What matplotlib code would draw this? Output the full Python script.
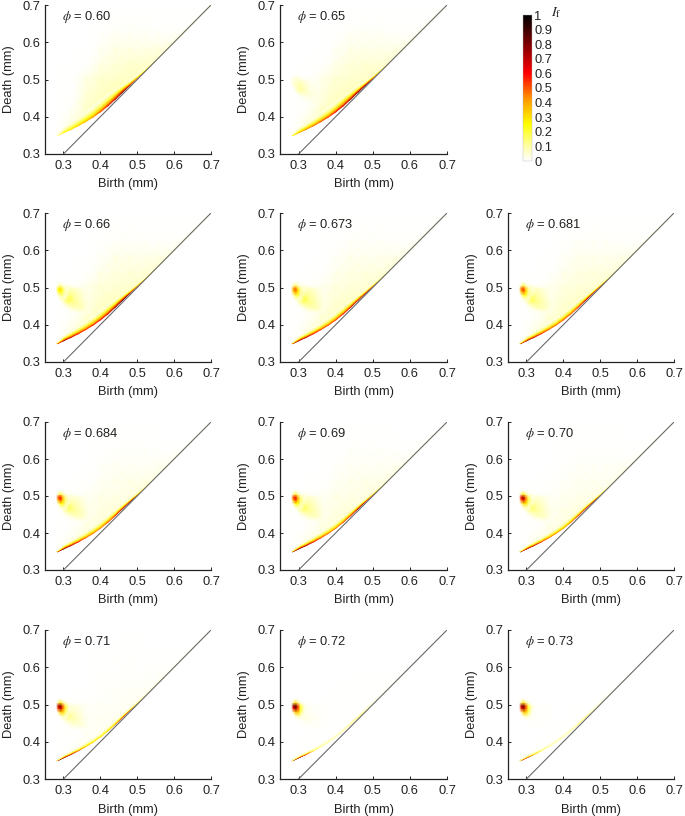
import numpy as np
import matplotlib
matplotlib.use('Agg')
import matplotlib.pyplot as plt
from matplotlib.cm import ScalarMappable
from matplotlib.colors import LinearSegmentedColormap, ListedColormap, Normalize
from matplotlib.patches import Polygon

plt.rcParams['font.family'] = ['Liberation Sans', 'DejaVu Sans']
plt.rcParams['mathtext.fontset'] = 'stix'

# panel labels, row by row (top right slot holds the colorbar)
phi_labels = ['0.60', '0.65', '0.66', '0.673', '0.681', '0.684', '0.69', '0.70', '0.71', '0.72', '0.73']

# lower ridge of the diagram
ridge_birth = [0.283, 0.30, 0.32, 0.34, 0.36, 0.38, 0.40, 0.42, 0.44, 0.46, 0.48, 0.50, 0.52, 0.55, 0.58, 0.62, 0.66, 0.70]
ridge_death = [0.349, 0.357, 0.366, 0.376, 0.387, 0.399, 0.413, 0.429, 0.447, 0.466, 0.485, 0.504, 0.523, 0.552, 0.581, 0.621, 0.661, 0.700]
band_width = [0.005, 0.014, 0.018, 0.021, 0.024, 0.026, 0.027, 0.027, 0.023, 0.017, 0.011, 0.008, 0.006, 0.004, 0.003, 0.003, 0.002, 0.002]
band_rows = [0.0, 0.2, 0.45, 0.7, 1.0]
band_falloff = [1.0, 0.65, 0.32, 0.13, 0.0]

# intensity along the ridge for each panel
ridge_levels = [
    [0.12, 0.25, 0.30, 0.33, 0.37, 0.42, 0.50, 0.58, 0.68, 0.80, 0.70, 0.48, 0.34, 0.25, 0.20, 0.14, 0.08, 0.04],
    [0.28, 0.40, 0.44, 0.47, 0.50, 0.53, 0.60, 0.66, 0.73, 0.84, 0.86, 0.58, 0.36, 0.25, 0.18, 0.12, 0.06, 0.03],
    [0.66, 0.74, 0.68, 0.60, 0.56, 0.56, 0.60, 0.66, 0.74, 0.86, 0.80, 0.54, 0.34, 0.23, 0.16, 0.10, 0.06, 0.03],
    [0.70, 0.76, 0.70, 0.60, 0.54, 0.52, 0.54, 0.58, 0.66, 0.72, 0.74, 0.62, 0.36, 0.21, 0.14, 0.10, 0.05, 0.03],
    [0.68, 0.74, 0.68, 0.58, 0.50, 0.48, 0.50, 0.50, 0.56, 0.70, 0.78, 0.72, 0.38, 0.21, 0.14, 0.08, 0.05, 0.03],
    [0.74, 0.80, 0.72, 0.58, 0.50, 0.46, 0.46, 0.50, 0.58, 0.74, 0.80, 0.50, 0.28, 0.18, 0.12, 0.07, 0.04, 0.02],
    [0.78, 0.82, 0.74, 0.63, 0.53, 0.48, 0.46, 0.50, 0.58, 0.74, 0.82, 0.52, 0.28, 0.17, 0.12, 0.07, 0.04, 0.02],
    [0.78, 0.80, 0.70, 0.56, 0.48, 0.44, 0.42, 0.46, 0.56, 0.70, 0.74, 0.44, 0.23, 0.14, 0.09, 0.06, 0.03, 0.02],
    [0.86, 0.84, 0.70, 0.50, 0.38, 0.32, 0.30, 0.34, 0.44, 0.63, 0.74, 0.42, 0.19, 0.12, 0.07, 0.04, 0.03, 0.01],
    [0.85, 0.85, 0.60, 0.22, 0.14, 0.11, 0.10, 0.11, 0.14, 0.20, 0.14, 0.08, 0.04, 0.03, 0.02, 0.01, 0.00, 0.00],
    [0.80, 0.68, 0.40, 0.18, 0.12, 0.10, 0.10, 0.11, 0.14, 0.18, 0.14, 0.08, 0.04, 0.03, 0.02, 0.01, 0.00, 0.00],
]
band_scale = [1.3, 1.1, 1.0, 0.85, 0.85, 0.8, 0.75, 0.65, 0.5, 0.4, 0.4]

# diffuse cloud above the ridge
cloud_birth = [0.28, 0.32, 0.36, 0.40, 0.44, 0.48, 0.52, 0.56, 0.60, 0.64, 0.68]
cloud_death = [0.34, 0.38, 0.42, 0.46, 0.50, 0.54, 0.58, 0.62, 0.66, 0.70]
cloud_values = [
    [0.00, 0.05, 0.08, 0.09, 0.10, 0.08, 0.06, 0.04, 0.02, 0.01, 0.00],
    [0.00, 0.05, 0.08, 0.09, 0.10, 0.08, 0.06, 0.04, 0.02, 0.01, 0.00],
    [0.00, 0.02, 0.06, 0.08, 0.10, 0.10, 0.07, 0.04, 0.02, 0.01, 0.00],
    [0.00, 0.01, 0.05, 0.065, 0.08, 0.09, 0.07, 0.04, 0.02, 0.01, 0.00],
    [0.00, 0.01, 0.04, 0.055, 0.06, 0.065, 0.08, 0.05, 0.02, 0.01, 0.00],
    [0.00, 0.00, 0.01, 0.04, 0.05, 0.055, 0.055, 0.07, 0.03, 0.01, 0.00],
    [0.00, 0.00, 0.00, 0.025, 0.04, 0.04, 0.04, 0.045, 0.05, 0.02, 0.00],
    [0.00, 0.00, 0.00, 0.012, 0.025, 0.025, 0.025, 0.02, 0.02, 0.02, 0.01],
    [0.00, 0.00, 0.00, 0.003, 0.01, 0.012, 0.01, 0.005, 0.005, 0.005, 0.005],
    [0.00, 0.00, 0.00, 0.00, 0.00, 0.00, 0.00, 0.00, 0.00, 0.00, 0.00],
]
cloud_levels = [1.0, 0.95, 0.9, 0.8, 0.8, 0.65, 0.65, 0.55, 0.38, 0.08, 0.06]

# bright spot near (0.29, 0.495) and its tail
spot_birth = [0.280, 0.286, 0.292, 0.298, 0.305, 0.315, 0.33, 0.35, 0.38]
spot_death = [0.43, 0.445, 0.46, 0.47, 0.48, 0.49, 0.497, 0.505, 0.515]
spot_core = [
    [0, 0, 0, 0, 0, 0, 0, 0, 0],
    [0, 0, 0, 0, 0, 0, 0, 0, 0],
    [0, 0, 0, 0, 0, 0, 0, 0, 0],
    [0, 0, 0.05, 0.12, 0.08, 0, 0, 0, 0],
    [0, 0.10, 0.40, 0.40, 0.20, 0.03, 0, 0, 0],
    [0, 0.65, 0.90, 0.60, 0.25, 0.05, 0, 0, 0],
    [0, 0.85, 1.00, 0.60, 0.22, 0.04, 0, 0, 0],
    [0, 0.15, 0.35, 0.15, 0.04, 0, 0, 0, 0],
    [0, 0, 0, 0, 0, 0, 0, 0, 0],
]
spot_tail = [
    [0, 0, 0, 0, 0, 0, 0.01, 0.03, 0],
    [0, 0, 0, 0, 0.01, 0.05, 0.10, 0.10, 0],
    [0, 0, 0, 0.04, 0.12, 0.18, 0.16, 0.09, 0],
    [0, 0, 0.08, 0.24, 0.30, 0.25, 0.14, 0.08, 0],
    [0, 0.08, 0.25, 0.38, 0.34, 0.22, 0.12, 0.07, 0],
    [0, 0.24, 0.46, 0.42, 0.30, 0.17, 0.10, 0.06, 0],
    [0, 0.28, 0.44, 0.34, 0.20, 0.12, 0.08, 0.05, 0],
    [0, 0.08, 0.15, 0.10, 0.06, 0.04, 0.02, 0.01, 0],
    [0, 0, 0, 0, 0, 0, 0, 0, 0],
]
spot_levels = [0.0, 0.03, 0.30, 0.50, 0.55, 0.60, 0.62, 0.75, 0.82, 0.88, 0.85]
tail_levels = [0.0, 0.30, 0.75, 0.80, 0.75, 0.70, 0.70, 0.65, 0.50, 0.18, 0.08]

ticks = [0.3, 0.4, 0.5, 0.6, 0.7]
cbar_ticks = [0, 0.1, 0.2, 0.3, 0.4, 0.5, 0.6, 0.7, 0.8, 0.9, 1]

# axes boxes in pixels of the 685x816 picture: left, right, top, bottom
col_px = [(45, 211), (280, 447), (508, 674)]
row_px = [(5, 154), (213, 362), (422, 570), (630, 779)]
slots = [(0, 0), (0, 1), (1, 0), (1, 1), (1, 2), (2, 0), (2, 1), (2, 2), (3, 0), (3, 1), (3, 2)]

W, H = 685, 816
heat = LinearSegmentedColormap.from_list('heat', [
    (0.0, '#ffffff'), (0.12, '#ffff90'), (0.25, '#ffff00'), (0.42, '#ff9a00'),
    (0.60, '#ff0000'), (0.78, '#8c0000'), (1.0, '#000000')])
rgba = heat(np.linspace(0, 1, 256))
rgba[:, 3] = np.clip(np.linspace(0, 1, 256) / 0.06, 0, 1)
heat_alpha = ListedColormap(rgba)

fig = plt.figure(figsize=(W / 100, H / 100), dpi=100)


def add_axes_px(left, right, top, bottom):
    return fig.add_axes([left / W, 1 - bottom / H, (right - left) / W, (bottom - top) / H])


rb = np.array(ridge_birth)
rd = np.array(ridge_death)
bw = np.array(band_width)

for i, (r, c) in enumerate(slots):
    ax = add_axes_px(col_px[c][0], col_px[c][1], row_px[r][0], row_px[r][1])

    # cloud, cut off under the ridge
    mesh = ax.pcolormesh(cloud_birth, cloud_death, np.array(cloud_values) * cloud_levels[i],
                         shading='gouraud', cmap=heat_alpha, vmin=0, vmax=1, zorder=1)
    clip = Polygon(list(zip(rb, rd)) + [(0.70, 0.70), (0.25, 0.70), (0.25, 0.35)],
                   transform=ax.transData, fc='none', ec='none')
    ax.add_patch(clip)
    mesh.set_clip_path(clip)

    # spot and tail
    ax.pcolormesh(spot_birth, spot_death, np.array(spot_tail) * tail_levels[i],
                  shading='gouraud', cmap=heat_alpha, vmin=0, vmax=1, zorder=2)
    ax.pcolormesh(spot_birth, spot_death, np.array(spot_core) * spot_levels[i],
                  shading='gouraud', cmap=heat_alpha, vmin=0, vmax=1, zorder=3)

    # ridge band, fading upward from its sharp lower edge
    x = np.tile(rb, (len(band_rows), 1))
    y = rd + np.outer(band_rows, bw * band_scale[i])
    z = np.outer(band_falloff, ridge_levels[i])
    ax.pcolormesh(x, y, z, shading='gouraud', cmap=heat_alpha, vmin=0, vmax=1, zorder=4)

    ax.plot([0.3, 0.7], [0.3, 0.7], color='#6a6a6a', lw=0.8, zorder=5)

    ax.set_xlim(0.25, 0.7)
    ax.set_ylim(0.3, 0.7)
    ax.set_xticks(ticks)
    ax.set_yticks(ticks)
    ax.set_xticklabels(['%.1f' % t for t in ticks])
    ax.set_yticklabels(['%.1f' % t for t in ticks])
    ax.tick_params(direction='in', length=2, width=0.7, labelsize=9.3, color='#222222', labelcolor='#222222')
    ax.tick_params(axis='x', pad=4.5)
    ax.tick_params(axis='y', pad=3.5)
    ax.spines['top'].set_visible(False)
    ax.spines['right'].set_visible(False)
    ax.spines['left'].set_linewidth(0.9)
    ax.spines['bottom'].set_linewidth(0.9)
    ax.spines['left'].set_color('#222222')
    ax.spines['bottom'].set_color('#222222')
    ax.set_xlabel('Birth (mm)', fontsize=9.3, labelpad=4.5, color='#222222')
    ax.set_ylabel('Death (mm)', fontsize=9.3, labelpad=5, color='#222222')
    ax.text(0.297, 0.668, r'$\phi$ = ' + phi_labels[i], fontsize=9.3, va='center', ha='left', color='#222222')

# colorbar
cax = add_axes_px(523, 532, 15, 161)
cb = fig.colorbar(ScalarMappable(Normalize(0, 1), heat), cax=cax, ticks=cbar_ticks)
cb.ax.set_yticklabels([str(t) for t in cbar_ticks])
cb.ax.tick_params(length=0, labelsize=9.3, pad=1.5, labelcolor='#222222')
cb.outline.set_linewidth(0.3)
cb.outline.set_edgecolor('#bbbbbb')
fig.text(556 / W, 1 - 13 / H, r'$I_{\mathrm{f}}$', fontsize=10, ha='center', va='center', color='#222222')

fig.savefig('out.png', dpi=100, facecolor='white')
